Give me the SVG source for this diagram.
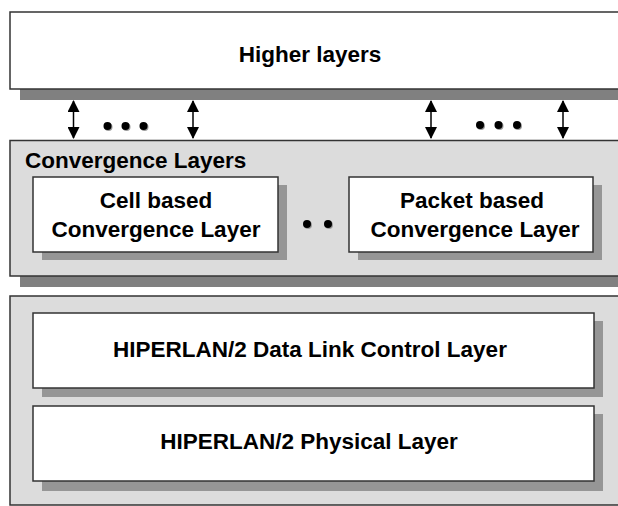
<svg xmlns="http://www.w3.org/2000/svg" width="618" height="506" viewBox="0 0 618 506">
  <defs>
    <style>
      .frame { stroke: #333333; stroke-width: 1.5; }
      .white { fill: #ffffff; }
      .grey { fill: #dcdcdc; }
      .shadowOuter { fill: #808080; }
      .shadowInner { fill: #969696; }
      .lbl { font-family: "Liberation Sans", Arial, sans-serif; font-weight: bold; font-size: 22.5px; fill: #000000; }
      .mid { text-anchor: middle; }
      .conn { stroke: #000000; stroke-width: 1.5; fill: none; }
      .dot { fill: #000000; }
      .dotsh { fill: #9a9a9a; }
    </style>
    <marker id="ah" viewBox="0 0 12 12" markerWidth="12" markerHeight="12" refX="11" refY="6" orient="auto-start-reverse" markerUnits="userSpaceOnUse">
      <path d="M0,0 L12,6 L0,12 Z" fill="#000000"/>
    </marker>
  </defs>

  <rect width="618" height="506" fill="#ffffff"/>

  <g id="higher-layers">
    <rect class="shadowOuter" x="20" y="22" width="610" height="78"/>
    <rect class="white frame" x="10" y="12" width="620" height="77"/>
    <text class="lbl mid" x="310" y="62">Higher layers</text>
  </g>

  <g id="convergence-layers">
    <rect class="shadowOuter" x="20" y="150" width="610" height="137"/>
    <rect class="grey frame" x="10" y="140.5" width="620" height="135.5"/>
    <text class="lbl" x="25" y="168">Convergence Layers</text>
  </g>

  <g id="cell-cl">
    <rect class="shadowInner" x="42" y="185" width="245" height="75"/>
    <rect class="white frame" x="33" y="177" width="245" height="75"/>
    <text class="lbl mid" x="156" y="208">Cell based</text>
    <text class="lbl mid" x="156" y="237">Convergence Layer</text>
  </g>

  <g id="cl-dots">
    <circle class="dotsh" cx="308" cy="225" r="4"/>
    <circle class="dot" cx="307" cy="224" r="4"/>
    <circle class="dotsh" cx="329" cy="225" r="4"/>
    <circle class="dot" cx="328" cy="224" r="4"/>
  </g>

  <g id="packet-cl">
    <rect class="shadowInner" x="358" y="185" width="244" height="75"/>
    <rect class="white frame" x="349" y="177" width="244" height="75"/>
    <text class="lbl mid" x="472" y="208">Packet based</text>
    <text class="lbl mid" x="475" y="237">Convergence Layer</text>
  </g>

  <g id="hiperlan2">
    <rect class="grey frame" x="10" y="296" width="620" height="209"/>
  </g>

  <g id="dlc">
    <rect class="shadowInner" x="42" y="321" width="561" height="76"/>
    <rect class="white frame" x="33" y="313" width="561" height="75"/>
    <text class="lbl mid" x="310" y="357">HIPERLAN/2 Data Link Control Layer</text>
  </g>

  <g id="phy">
    <rect class="shadowInner" x="42" y="414" width="561" height="77"/>
    <rect class="white frame" x="33" y="406" width="561" height="75"/>
    <text class="lbl mid" x="309" y="449">HIPERLAN/2 Physical Layer</text>
  </g>

  <g id="connectors">
    <line class="conn" x1="73.5" y1="101" x2="73.5" y2="138" marker-start="url(#ah)" marker-end="url(#ah)"/>
    <line class="conn" x1="193" y1="101" x2="193" y2="138" marker-start="url(#ah)" marker-end="url(#ah)"/>
    <line class="conn" x1="431" y1="101" x2="431" y2="138" marker-start="url(#ah)" marker-end="url(#ah)"/>
    <line class="conn" x1="563" y1="101" x2="563" y2="138" marker-start="url(#ah)" marker-end="url(#ah)"/>
  </g>

  <g id="top-dots-left">
    <circle class="dotsh" cx="108.5" cy="127" r="4"/>
    <circle class="dot" cx="107.5" cy="126" r="4"/>
    <circle class="dotsh" cx="126.5" cy="127" r="4"/>
    <circle class="dot" cx="125.5" cy="126" r="4"/>
    <circle class="dotsh" cx="144.5" cy="127" r="4"/>
    <circle class="dot" cx="143.5" cy="126" r="4"/>
  </g>
  <g id="top-dots-right">
    <circle class="dotsh" cx="481" cy="126" r="4"/>
    <circle class="dot" cx="480" cy="125" r="4"/>
    <circle class="dotsh" cx="499.5" cy="126" r="4"/>
    <circle class="dot" cx="498.5" cy="125" r="4"/>
    <circle class="dotsh" cx="518" cy="126" r="4"/>
    <circle class="dot" cx="517" cy="125" r="4"/>
  </g>
</svg>
